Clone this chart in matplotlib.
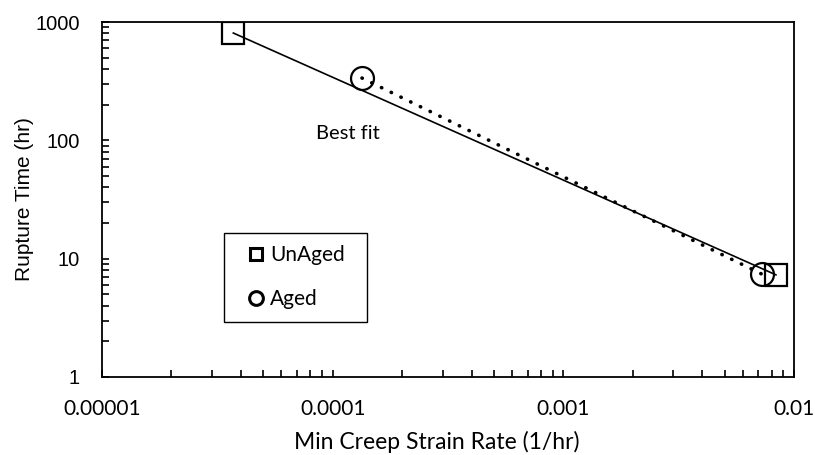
import matplotlib
matplotlib.use('agg', force=True)
import matplotlib.pyplot as plt
from matplotlib.patches import Rectangle
from matplotlib.ticker import LogLocator, FixedLocator, FixedFormatter, NullFormatter

# data
unaged_rate = [3.71e-5, 0.00835]
unaged_time = [807, 7.3]
aged_rate = [1.34e-4, 0.00726]
aged_time = [336, 7.4]

x_ticks = [1e-5, 1e-4, 1e-3, 1e-2]
x_labels = ["0.00001", "0.0001", "0.001", "0.01"]
y_ticks = [1, 10, 100, 1000]
y_labels = ["1", "10", "100", "1000"]


def main():
    fig = plt.figure(figsize=(8.15, 4.55), dpi=100)
    # plot area: x 102..794 px, y 22..377 px
    ax = fig.add_axes([102 / 815, 1 - 377 / 455, 692 / 815, 355 / 455])

    ax.set_xscale("log")
    ax.set_yscale("log")
    ax.set_xlim(1e-5, 1e-2)
    ax.set_ylim(1, 1000)

    # best fit lines
    ax.plot(unaged_rate, unaged_time, color="black", lw=1.2, zorder=2)
    ax.plot(aged_rate, aged_time, color="black", lw=2.6, linestyle=(0, (0.1, 2.9)),
            dash_capstyle="round", zorder=2)

    ax.plot(unaged_rate, unaged_time, linestyle="none", marker="s", ms=15.5,
            mfc="none", mec="black", mew=1.6, label="UnAged", zorder=3)
    ax.plot(aged_rate, aged_time, linestyle="none", marker="o", ms=16.5,
            mfc="none", mec="black", mew=1.6, label="Aged", zorder=3)

    ax.text(1.16e-4, 115, "Best fit", fontsize=14.5, family="Lato",
            ha="center", va="center")

    # legend without frame, box drawn separately (Excel pads it wider)
    leg = ax.legend(loc="upper left", bbox_to_anchor=((247 - 102) / 692, (377 - 245) / 355),
                    borderaxespad=0, borderpad=0,
                    prop={"family": "Lato", "size": 15}, markerscale=0.6,
                    handlelength=0.9, handletextpad=0.2, labelspacing=1.15,
                    frameon=False)
    for h in leg.legend_handles:
        h.set_markeredgewidth(2.2)
    ax.add_patch(Rectangle(((224 - 102) / 692, (377 - 322) / 355), 143 / 692, 89 / 355,
                           transform=ax.transAxes, fill=False, ec="black", lw=1.0,
                           zorder=4))

    ax.xaxis.set_major_locator(FixedLocator(x_ticks))
    ax.xaxis.set_major_formatter(FixedFormatter(x_labels))
    ax.xaxis.set_minor_locator(LogLocator(base=10, subs=range(2, 10)))
    ax.xaxis.set_minor_formatter(NullFormatter())
    ax.yaxis.set_major_locator(FixedLocator(y_ticks))
    ax.yaxis.set_major_formatter(FixedFormatter(y_labels))
    ax.yaxis.set_minor_locator(LogLocator(base=10, subs=range(2, 10)))
    ax.yaxis.set_minor_formatter(NullFormatter())

    ax.tick_params(which="both", direction="in", length=5, width=1.2, color="black")
    ax.tick_params(axis="x", which="both", top=False, pad=16)
    ax.tick_params(axis="y", which="both", right=False, pad=16)
    for lab in ax.get_xticklabels():
        lab.set_fontfamily("Lato")
        lab.set_fontsize(15)
    for lab in ax.get_yticklabels():
        lab.set_fontfamily("Liberation Sans")
        lab.set_fontsize(14.5)

    for sp in ax.spines.values():
        sp.set_linewidth(1.3)
        sp.set_color("black")

    ax.set_xlabel("Min Creep Strain Rate (1/hr)", fontsize=16.5, family="Lato")
    ax.xaxis.set_label_coords((437 - 102) / 692, (377 - 431) / 355)
    ax.set_ylabel("Rupture Time (hr)", fontsize=15, family="Liberation Sans")
    ax.yaxis.set_label_coords((34 - 102) / 692, 0.5)

    fig.savefig("out.png", dpi=100)


if __name__ == "__main__":
    main()
